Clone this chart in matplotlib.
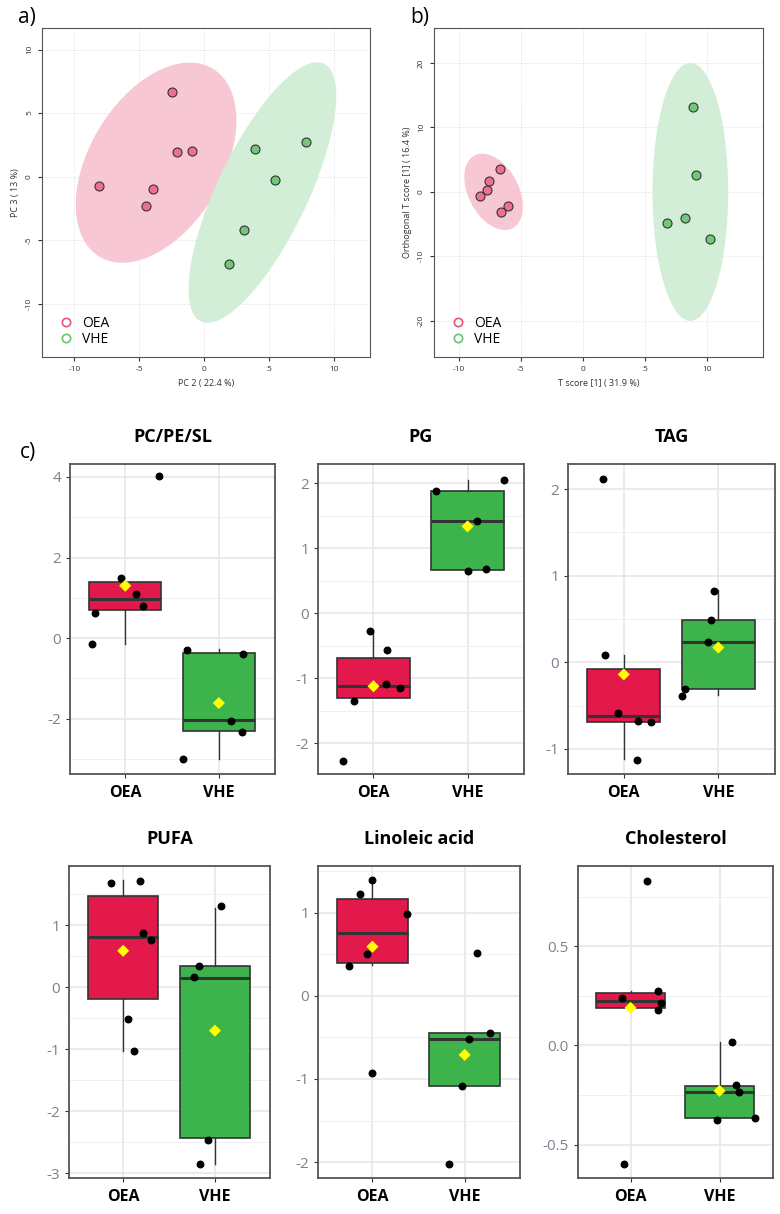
import numpy as np
import matplotlib
matplotlib.use("Agg")
import matplotlib.pyplot as plt
from matplotlib.patches import Ellipse
from matplotlib.lines import Line2D
from matplotlib.ticker import MultipleLocator, FormatStrFormatter

plt.rcParams['font.family'] = ['Open Sans', 'DejaVu Sans']
plt.rcParams['axes.unicode_minus'] = False

# ---- score plots -------------------------------------------------------
groups = ['OEA', 'VHE']

pca_oea_x = [-8.1, -2.5, -2.1, -0.9, -3.9, -4.5]
pca_oea_y = [-0.7, 6.7, 1.9, 2.0, -1.0, -2.3]
pca_vhe_x = [3.9, 7.9, 5.5, 3.1, 1.9]
pca_vhe_y = [2.2, 2.7, -0.3, -4.2, -6.9]

opls_oea_x = [-8.3, -7.7, -7.6, -6.7, -6.6, -6.0]
opls_oea_y = [-0.6, 0.3, 1.7, 3.5, -3.1, -2.2]
opls_vhe_x = [8.9, 9.1, 6.8, 8.2, 10.2]
opls_vhe_y = [13.2, 2.6, -4.8, -4.0, -7.3]

# 95% region ellipses: (cx, cy, width, height, angle)
pca_ell_oea = (-3.7, 1.1, 17.2, 10.3, 60)
pca_ell_vhe = (4.5, -1.25, 22.4, 7.0, 65)
opls_ell_oea = (-7.2, 0.0, 4.3, 12.0, 10)
opls_ell_vhe = (8.65, 0.0, 6.1, 40.0, 0)

# ---- box plots ---------------------------------------------------------
box_titles = ['PC/PE/SL', 'PG', 'TAG', 'PUFA', 'Linoleic acid', 'Cholesterol']
# per panel, per group: (q1, median, q3, whisker_low, whisker_high, mean)
box_stats = [
    [(0.70, 0.97, 1.39, -0.15, 1.39, 1.30), (-2.31, -2.02, -0.38, -3.00, -0.27, -1.61)],
    [(-1.30, -1.12, -0.69, -1.30, -0.29, -1.12), (0.67, 1.42, 1.88, 0.67, 2.06, 1.34)],
    [(-0.69, -0.62, -0.08, -1.12, 0.08, -0.14), (-0.31, 0.24, 0.49, -0.38, 0.83, 0.17)],
    [(-0.19, 0.82, 1.48, -1.03, 1.73, 0.59), (-2.43, 0.15, 0.34, -2.86, 1.28, -0.70)],
    [(0.40, 0.75, 1.16, 0.37, 1.39, 0.59), (-1.08, -0.52, -0.45, -1.08, -0.45, -0.71)],
    [(0.187, 0.224, 0.267, 0.187, 0.277, 0.19), (-0.368, -0.235, -0.203, -0.368, 0.02, -0.229)],
]
# individual samples: values and horizontal jitter
pt_vals = [
    [[-0.15, 0.62, 1.49, 1.09, 0.80, 4.02], [-0.30, -0.40, -2.06, -2.33, -3.00]],
    [[-0.27, -0.56, -1.08, -1.15, -1.35, -2.27], [1.88, 1.42, 0.66, 0.68, 2.06]],
    [[2.12, 0.08, -0.58, -0.68, -0.69, -1.13], [0.82, 0.49, 0.24, -0.31, -0.39]],
    [[1.69, 1.71, 0.87, 0.76, -0.51, -1.03], [1.31, 0.34, 0.16, -2.46, -2.85]],
    [[1.22, 1.39, 0.98, 0.50, 0.36, -0.93], [0.51, -0.45, -0.52, -1.08, -2.02]],
    [[0.832, 0.277, 0.24, 0.213, 0.18, -0.597], [0.02, -0.20, -0.235, -0.375, -0.368]],
]
pt_jit = [
    [[-0.36, -0.32, -0.04, 0.11, 0.19, 0.36], [-0.34, 0.26, 0.13, 0.25, -0.38]],
    [[-0.04, 0.14, 0.13, 0.28, -0.21, -0.32], [-0.34, 0.10, 0.0, 0.20, 0.39]],
    [[-0.22, -0.20, -0.06, 0.15, 0.29, 0.14], [-0.05, -0.08, -0.11, -0.35, -0.38]],
    [[-0.13, 0.18, 0.22, 0.30, 0.05, 0.12], [0.07, -0.17, -0.23, -0.08, -0.16]],
    [[-0.13, 0.0, 0.37, -0.06, -0.25, 0.0], [0.13, 0.28, 0.05, -0.03, -0.17]],
    [[0.19, 0.31, -0.10, 0.34, 0.31, -0.07], [0.14, 0.19, 0.22, -0.03, 0.40]],
]
box_ylims = [(-3.37, 4.32), (-2.47, 2.3), (-1.29, 2.29),
             (-3.08, 1.96), (-2.19, 1.56), (-0.669, 0.906)]
box_major = [2, 1, 1, 1, 1, 0.5]

W, H = 780, 1214
fig = plt.figure(figsize=(W / 100, H / 100), dpi=100)


def px_axes(l, t, r, b):
    return fig.add_axes([l / W, 1 - b / H, (r - l) / W, (b - t) / H])


pink_fill, green_fill = '#f7c8d3', '#d3eed6'
pink_pt, green_pt = '#ee6f8e', '#74c77a'
pink_leg, green_leg = '#e8577a', '#6cc470'


def score_plot(ax, ox, oy, vx, vy, e1, e2, xlim, ylim, xt, yt, xlabel, ylabel):
    for (cx, cy, w, h, a), col in ((e1, pink_fill), (e2, green_fill)):
        ax.add_patch(Ellipse((cx, cy), w, h, angle=a, facecolor=col,
                             edgecolor='none', zorder=1))
    ax.scatter(ox, oy, s=42, c=pink_pt, edgecolors='#333333', linewidths=0.8, zorder=3)
    ax.scatter(vx, vy, s=42, c=green_pt, edgecolors='#333333', linewidths=0.8, zorder=3)
    ax.set_xlim(*xlim)
    ax.set_ylim(*ylim)
    ax.set_xticks(xt)
    ax.set_yticks(yt)
    ax.grid(color='#dddddd', ls=':', lw=0.7, zorder=0)
    ax.set_axisbelow(True)
    ax.tick_params(labelsize=6, colors='#333333', length=3)
    for lab in ax.get_yticklabels():
        lab.set_rotation(90)
        lab.set_va('center')
    ax.set_xlabel(xlabel, fontsize=6.5, color='#333333')
    ax.set_ylabel(ylabel, fontsize=6.5, color='#333333')
    for s in ax.spines.values():
        s.set_color('#555555')
    handles = [Line2D([], [], ls='none', marker='o', mfc='none', mec=pink_leg, mew=1.2, ms=6),
               Line2D([], [], ls='none', marker='o', mfc='none', mec=green_leg, mew=1.2, ms=6)]
    ax.legend(handles, groups, loc='lower left', frameon=False, fontsize=10,
              handletextpad=0.2, labelspacing=0.1, borderaxespad=0.3)


ax_a = px_axes(42, 28, 370, 357)
score_plot(ax_a, pca_oea_x, pca_oea_y, pca_vhe_x, pca_vhe_y, pca_ell_oea, pca_ell_vhe,
           (-12.5, 12.8), (-14.2, 11.7), [-10, -5, 0, 5, 10], [-10, -5, 0, 5, 10],
           'PC 2 ( 22.4 %)', 'PC 3 ( 13 %)')
ax_b = px_axes(434, 28, 763, 357)
score_plot(ax_b, opls_oea_x, opls_oea_y, opls_vhe_x, opls_vhe_y, opls_ell_oea, opls_ell_vhe,
           (-12.0, 14.5), (-25.6, 25.4), [-10, -5, 0, 5, 10], [-20, -10, 0, 10, 20],
           'T score [1] ( 31.9 %)', 'Orthogonal T score [1] ( 16.4 %)')

fig.text(18 / W, 1 - 18 / H, 'a)', fontsize=15, va='center')
fig.text(410 / W, 1 - 18 / H, 'b)', fontsize=15, va='center')
fig.text(20 / W, 1 - 452 / H, 'c)', fontsize=15, va='center')

box_rects = [(70, 464, 275, 774), (318, 464, 524, 774), (568, 464, 775, 774),
             (69, 866, 270, 1178), (318, 866, 520, 1178), (578, 866, 773, 1178)]
box_colors = ['#e3194b', '#3cb44b']

for i, rect in enumerate(box_rects):
    ax = px_axes(*rect)
    stats = []
    for g, st in enumerate(box_stats[i]):
        q1, med, q3, wlo, whi, mean = st
        stats.append(dict(q1=q1, med=med, q3=q3, whislo=wlo, whishi=whi,
                          fliers=[], label=groups[g]))
    bp = ax.bxp(stats, positions=[1, 2], widths=0.77, patch_artist=True,
                showcaps=False, showfliers=False,
                medianprops=dict(color='#333333', lw=2.2),
                whiskerprops=dict(color='#333333', lw=1),
                boxprops=dict(edgecolor='#333333', lw=1.2))
    for patch, col in zip(bp['boxes'], box_colors):
        patch.set_facecolor(col)
        patch.set_zorder(2)
    for g in range(2):
        xs = [g + 1 + d for d in pt_jit[i][g]]
        ax.scatter(xs, pt_vals[i][g], s=22, c='black', zorder=4)
        ax.scatter([g + 1], [box_stats[i][g][5]], s=38, marker='D', c='#ffff00',
                   edgecolors='none', zorder=5)
    ax.set_xlim(0.41, 2.6)
    ax.set_ylim(*box_ylims[i])
    ax.yaxis.set_major_locator(MultipleLocator(box_major[i]))
    ax.yaxis.set_minor_locator(MultipleLocator(box_major[i] / 2))
    if i == 5:
        ax.yaxis.set_major_formatter(FormatStrFormatter('%.1f'))
    ax.set_xticks([1, 2])
    ax.set_xticklabels(groups, fontsize=11.5, fontweight='bold')
    ax.tick_params(axis='y', labelsize=11, labelcolor='#7a8290', color='#333333', length=3)
    ax.tick_params(axis='y', which='minor', length=0)
    ax.tick_params(axis='x', length=3, color='#333333', pad=5)
    ax.grid(which='major', color='#e6e6e6', lw=1.1)
    ax.grid(which='minor', color='#f0f0f0', lw=0.7)
    ax.set_axisbelow(True)
    for s in ax.spines.values():
        s.set_color('#555555')
        s.set_linewidth(1.3)
    ax.set_title(box_titles[i], fontsize=13, fontweight='bold', pad=16)

fig.savefig('out.png', dpi=100)
